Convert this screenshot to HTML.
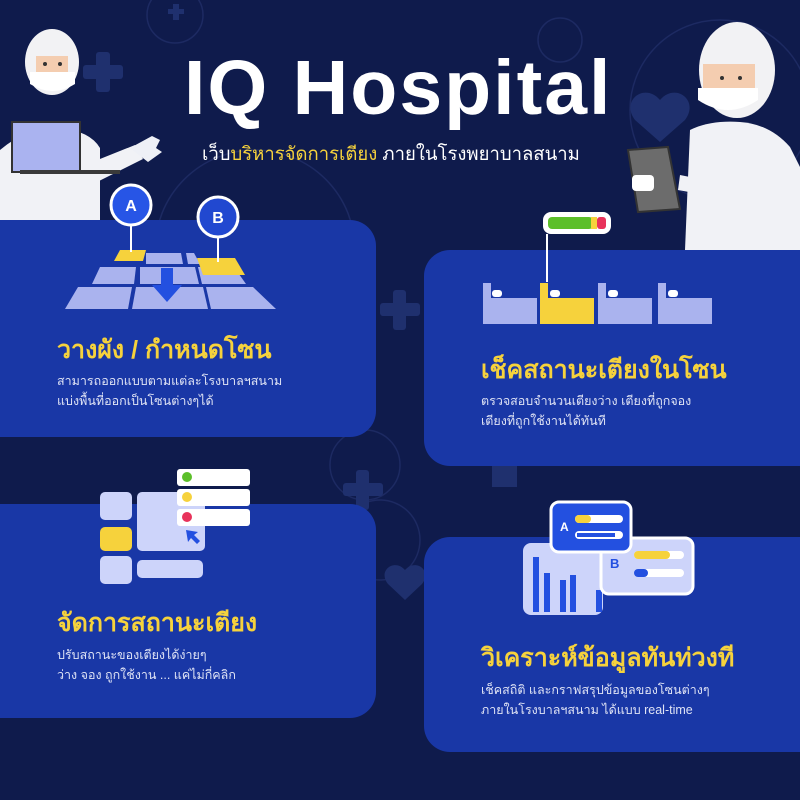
<!DOCTYPE html>
<html><head><meta charset="utf-8"><style>
body{margin:0;width:800px;height:800px;overflow:hidden;background:#0f1b4c;font-family:"Liberation Sans","DejaVu Sans",sans-serif}
.t{position:absolute;white-space:nowrap}
.h{color:#f6d23c;font-weight:bold;font-size:25px}
.d{color:#dfe3f5;font-size:12.5px;line-height:20px}
</style></head><body>
<svg width="800" height="800" style="position:absolute;left:0;top:0">
<g fill="none" stroke="#1d2a62" stroke-width="1.5">
<circle cx="175" cy="15" r="28"/><circle cx="365" cy="465" r="35"/><circle cx="255" cy="250" r="100"/><circle cx="720" cy="110" r="90"/><circle cx="560" cy="40" r="22"/><circle cx="380" cy="540" r="40"/>
</g>
<g fill="#1f306e">
<rect x="83" y="65" width="40" height="14" rx="3"/><rect x="96" y="52" width="14" height="40" rx="3"/>
<rect x="380" y="303" width="40" height="13" rx="3"/><rect x="393" y="290" width="13" height="40" rx="3"/>
<rect x="343" y="483" width="40" height="13" rx="3"/><rect x="356" y="470" width="13" height="40" rx="3"/>
<rect x="168" y="9" width="16" height="5"/><rect x="173" y="4" width="6" height="16"/>
<path d="M660 100c-15-18-40 0-25 20l25 22 25-22c15-20-10-38-25-20z"/>
<path d="M405 570c-10-12-28 0-17 14l17 16 17-16c11-14-7-26-17-14z"/>
<rect x="492" y="465" width="25" height="22"/>
</g>
<g fill="#1937a6">
<path d="M0 220h350a26 26 0 0 1 26 26v165a26 26 0 0 1-26 26H0z"/>
<path d="M450 250h350v216H450a26 26 0 0 1-26-26V276a26 26 0 0 1 26-26z"/>
<path d="M0 504h350a26 26 0 0 1 26 26v162a26 26 0 0 1-26 26H0z"/>
<path d="M450 537h350v215H450a26 26 0 0 1-26-26V563a26 26 0 0 1 26-26z"/>
</g>
<g>
<path d="M0 150q30-25 60-22t40 20v72H0z" fill="#f1f2f6"/>
<path d="M85 165l50-20 8 14-50 25z" fill="#f1f2f6"/>
<path d="M130 148l22-12 8 4-4 8 6 4-14 10z" fill="#eef0f6"/>
<ellipse cx="52" cy="62" rx="27" ry="33" fill="#f2f2f4"/>
<rect x="36" y="56" width="32" height="20" fill="#f4cdb0"/>
<circle cx="45" cy="64" r="2" fill="#333"/><circle cx="60" cy="64" r="2" fill="#333"/>
<path d="M30 72h45v12q-22 14-45 0z" fill="#fff"/>
<rect x="12" y="122" width="68" height="50" fill="#aab3f0" stroke="#333" stroke-width="2"/>
<rect x="20" y="170" width="100" height="4" fill="#3a3a3a"/>
</g>
<g>
<path d="M690 130q20-10 50-8t50 25l10 20v83H685z" fill="#f1f2f6"/>
<ellipse cx="737" cy="70" rx="38" ry="48" fill="#f2f2f4"/>
<rect x="703" y="64" width="52" height="28" fill="#f4cdb0"/>
<circle cx="722" cy="78" r="2" fill="#333"/><circle cx="740" cy="78" r="2" fill="#333"/>
<path d="M698 88h60v12q-30 20-60 0z" fill="#fff"/>
<path d="M628 150l40-3 12 62-42 3z" fill="#6c6c6c" stroke="#333" stroke-width="2"/>
<rect x="632" y="175" width="22" height="16" rx="4" fill="#fff"/>
<path d="M680 175l25 5 -5 14-22-4z" fill="#f1f2f6"/>
</g>
<g fill="#aab3ee">
<path d="M146 253h35l2 11h-37z"/><path d="M186 253h8l6 11h-12z"/>
<path d="M100 267h36l-2 17h-42z"/><path d="M140 267h55l4 17h-59z"/><path d="M198 267h36l12 17h-44z"/>
<path d="M78 287h54l-4 22h-63z"/><path d="M136 287h67l5 22h-76z"/><path d="M206 287h47l23 22h-65z"/>
</g>
<path d="M120 250h26l-3 11h-29z" fill="#f6d23c"/><path d="M197 258h38l10 17h-42z" fill="#f6d23c"/>
<path d="M161 268h12v17h9l-15 17-15-17h9z" fill="#2350e0"/>
<line x1="131" y1="225" x2="131" y2="252" stroke="#fff" stroke-width="2"/><line x1="218" y1="236" x2="218" y2="262" stroke="#fff" stroke-width="2"/>
<circle cx="131" cy="205" r="20" fill="#2755e6" stroke="#fff" stroke-width="3"/><circle cx="218" cy="217" r="20" fill="#2148d0" stroke="#fff" stroke-width="3"/>
<text x="131" y="211" fill="#fff" font-weight="bold" font-size="16" text-anchor="middle">A</text>
<text x="218" y="223" fill="#fff" font-weight="bold" font-size="16" text-anchor="middle">B</text>
<rect x="543" y="212" width="68" height="22" rx="8" fill="#fff"/>
<rect x="548" y="217" width="45" height="12" rx="4" fill="#5cbf2a"/><rect x="591" y="217" width="6" height="12" fill="#f6d23c"/><rect x="597" y="217" width="9" height="12" rx="3" fill="#e8325a"/>
<line x1="547" y1="234" x2="547" y2="282" stroke="#fff" stroke-width="2"/>
<g fill="#aab3ee">
<path d="M483 283h8v15h46v26h-54z"/><path d="M598 283h8v15h46v26h-54z"/><path d="M658 283h8v15h46v26h-54z"/>
</g>
<path d="M540 283h8v15h46v26h-54z" fill="#f6d23c"/>
<g fill="#fff"><rect x="492" y="290" width="10" height="7" rx="3"/><rect x="550" y="290" width="10" height="7" rx="3"/><rect x="608" y="290" width="10" height="7" rx="3"/><rect x="668" y="290" width="10" height="7" rx="3"/></g>
<g fill="#cdd4fa">
<rect x="100" y="492" width="32" height="28" rx="5"/><rect x="100" y="556" width="32" height="28" rx="5"/>
<rect x="137" y="492" width="68" height="59" rx="5"/><rect x="137" y="560" width="66" height="18" rx="5"/>
</g>
<rect x="100" y="527" width="32" height="24" rx="5" fill="#f6d23c"/>
<g fill="#fff"><rect x="177" y="469" width="73" height="17" rx="3"/><rect x="177" y="489" width="73" height="17" rx="3"/><rect x="177" y="509" width="73" height="17" rx="3"/></g>
<circle cx="187" cy="477" r="5" fill="#5cbf2a"/><circle cx="187" cy="497" r="5" fill="#f6d23c"/><circle cx="187" cy="517" r="5" fill="#e8325a"/>
<path d="M186 530l12 2-4 3 6 6-3 3-6-6-3 4z" fill="#2350e0"/>
<rect x="523" y="543" width="80" height="72" rx="8" fill="#cdd4fa"/>
<g fill="#2350e0"><rect x="533" y="557" width="6" height="55"/><rect x="544" y="573" width="6" height="39"/><rect x="560" y="580" width="6" height="32"/><rect x="570" y="575" width="6" height="37"/><rect x="596" y="590" width="6" height="22"/></g>
<rect x="601" y="538" width="92" height="56" rx="8" fill="#cdd4fa" stroke="#fff" stroke-width="3"/>
<rect x="634" y="551" width="50" height="8" rx="4" fill="#fff"/><rect x="634" y="551" width="36" height="8" rx="4" fill="#f6d23c"/>
<rect x="634" y="569" width="50" height="8" rx="4" fill="#fff"/><rect x="634" y="569" width="14" height="8" rx="4" fill="#2350e0"/>
<text x="610" y="568" fill="#2350e0" font-weight="bold" font-size="13">B</text>
<rect x="551" y="502" width="80" height="50" rx="8" fill="#2350e0" stroke="#fff" stroke-width="3"/>
<rect x="575" y="515" width="48" height="8" rx="4" fill="#fff"/><rect x="575" y="515" width="16" height="8" rx="4" fill="#f6d23c"/>
<rect x="575" y="531" width="48" height="8" rx="4" fill="#fff"/><rect x="577" y="533" width="38" height="4" fill="#2350e0"/>
<text x="560" y="531" fill="#fff" font-weight="bold" font-size="12">A</text>
</svg>
<div class="t" style="left:184px;top:44px;color:#fff;font-weight:bold;font-size:77px;letter-spacing:2px">IQ Hospital</div>
<div class="t" style="left:202px;top:140px;color:#fff;font-size:18.5px">เว็บ<span style="color:#f6d23c">บริหารจัดการเตียง</span> ภายในโรงพยาบาลสนาม</div>
<div class="t h" style="left:57px;top:330px">วางผัง / กำหนดโซน</div>
<div class="t d" style="left:57px;top:371px">สามารถออกแบบตามแต่ละโรงบาลฯสนาม<br>แบ่งพื้นที่ออกเป็นโซนต่างๆได้</div>
<div class="t h" style="left:481px;top:350px">เช็คสถานะเตียงในโซน</div>
<div class="t d" style="left:481px;top:391px">ตรวจสอบจำนวนเตียงว่าง เตียงที่ถูกจอง<br>เตียงที่ถูกใช้งานได้ทันที</div>
<div class="t h" style="left:57px;top:603px">จัดการสถานะเตียง</div>
<div class="t d" style="left:57px;top:645px">ปรับสถานะของเตียงได้ง่ายๆ<br>ว่าง จอง ถูกใช้งาน ... แค่ไม่กี่คลิก</div>
<div class="t h" style="left:481px;top:638px">วิเคราะห์ข้อมูลทันท่วงที</div>
<div class="t d" style="left:481px;top:680px">เช็คสถิติ และกราฟสรุปข้อมูลของโซนต่างๆ<br>ภายในโรงบาลฯสนาม ได้แบบ real-time</div>
</body></html>
